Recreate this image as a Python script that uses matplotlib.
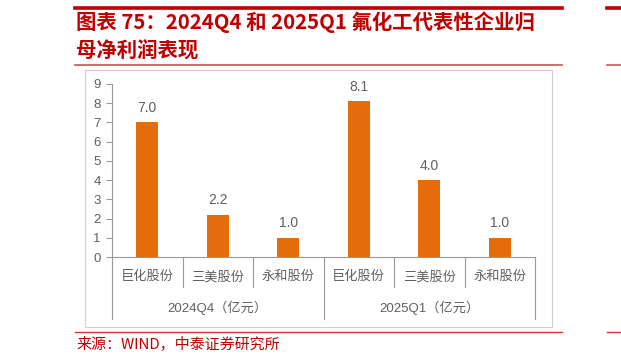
import matplotlib
matplotlib.use("Agg")
import matplotlib.pyplot as plt
from matplotlib.lines import Line2D
from matplotlib.patches import Rectangle

plt.rcParams['font.family'] = ['Liberation Sans', 'Noto Sans CJK SC', 'DejaVu Sans']

companies = ["巨化股份", "三美股份", "永和股份", "巨化股份", "三美股份", "永和股份"]
groups = ["2024Q4（亿元）", "2025Q1（亿元）"]
values = [7.0, 2.2, 1.0, 8.1, 4.0, 1.0]
yticks = list(range(0, 10))

W, H = 621, 357
fig = plt.figure(figsize=(W / 100, H / 100), dpi=100)

def fx(px):
    return px / W

def fy(py):
    return 1 - py / H

red = "#C00000"
gray_txt = "#606060"
gray_line = "#999999"
orange = "#E46C0A"
cjk = ['Noto Sans CJK SC', 'DejaVu Sans']

# header lines
fig.add_artist(Line2D([fx(75), fx(562)], [fy(8), fy(8)], color=red, lw=2.6))
fig.add_artist(Line2D([fx(75), fx(562)], [fy(65), fy(65)], color="#D05050", lw=1.2))
fig.add_artist(Line2D([fx(75), fx(562)], [fy(332), fy(332)], color="#E03030", lw=1.0))
# neighbouring chart fragments at right edge
fig.add_artist(Line2D([fx(607), fx(621)], [fy(8), fy(8)], color=red, lw=2.6))
fig.add_artist(Line2D([fx(607), fx(621)], [fy(65), fy(65)], color="#D05050", lw=1.2))
fig.add_artist(Line2D([fx(607), fx(621)], [fy(332), fy(332)], color="#E03030", lw=1.0))

fig.text(fx(76), fy(22), "图表 75：2024Q4 和 2025Q1 氟化工代表性企业归", color=red,
         fontsize=14.7, fontweight="bold", va="center", ha="left", family=cjk)
fig.text(fx(76), fy(50), "母净利润表现", color=red,
         fontsize=14.7, fontweight="bold", va="center", ha="left", family=cjk)
fig.text(fx(76), fy(344), "来源：WIND，中泰证券研究所", color=red,
         fontsize=10.8, va="center", ha="left", family=cjk)

# chart frame
fig.add_artist(Rectangle((fx(85), fy(327)), fx(552) - fx(85), fy(70) - fy(327),
                         fill=False, edgecolor="#D0D0D0", lw=0.8))

ax = fig.add_axes([fx(112), fy(257), fx(535) - fx(112), fy(84) - fy(257)])
x = list(range(len(values)))
bars = ax.bar(x, values, width=0.31, color=orange)
for xi, v in zip(x, values):
    ax.text(xi, v + 0.38, f"{v:.1f}", ha="center", va="bottom", fontsize=10, color=gray_txt)

ax.set_xlim(-0.5, len(values) - 0.5)
ax.set_ylim(0, 9)
ax.set_yticks(yticks)
ax.tick_params(axis="y", colors=gray_line, labelcolor=gray_txt, labelsize=9.5, length=4, width=0.8, pad=4)
ax.set_xticks([])
for s in ["top", "right"]:
    ax.spines[s].set_visible(False)
ax.spines["left"].set_color(gray_line)
ax.spines["bottom"].set_color(gray_line)
ax.spines["left"].set_linewidth(0.8)
ax.spines["bottom"].set_linewidth(0.8)

# multi-level category axis
trans = ax.get_xaxis_transform()
ppu = (fy(84) - fy(257))
def ay(py):
    return (fy(py) - fy(257)) / ppu

for i, name in enumerate(companies):
    ax.text(i, ay(277), name, transform=trans, ha="center", va="center",
            fontsize=9.5, color=gray_txt)
    if i % 3 != 0:
        ax.add_artist(Line2D([i - 0.5, i - 0.5], [0, ay(287)], transform=trans,
                             color=gray_line, lw=0.8, clip_on=False))
for b in [-0.5, 2.5, 5.5]:
    ax.add_artist(Line2D([b, b], [0, ay(319)], transform=trans,
                         color=gray_line, lw=0.8, clip_on=False))
for g, name in enumerate(groups):
    ax.text(g * 3 + 1, ay(308), name, transform=trans, ha="center", va="center",
            fontsize=9.5, color=gray_txt)

fig.savefig("out.png", dpi=100)
